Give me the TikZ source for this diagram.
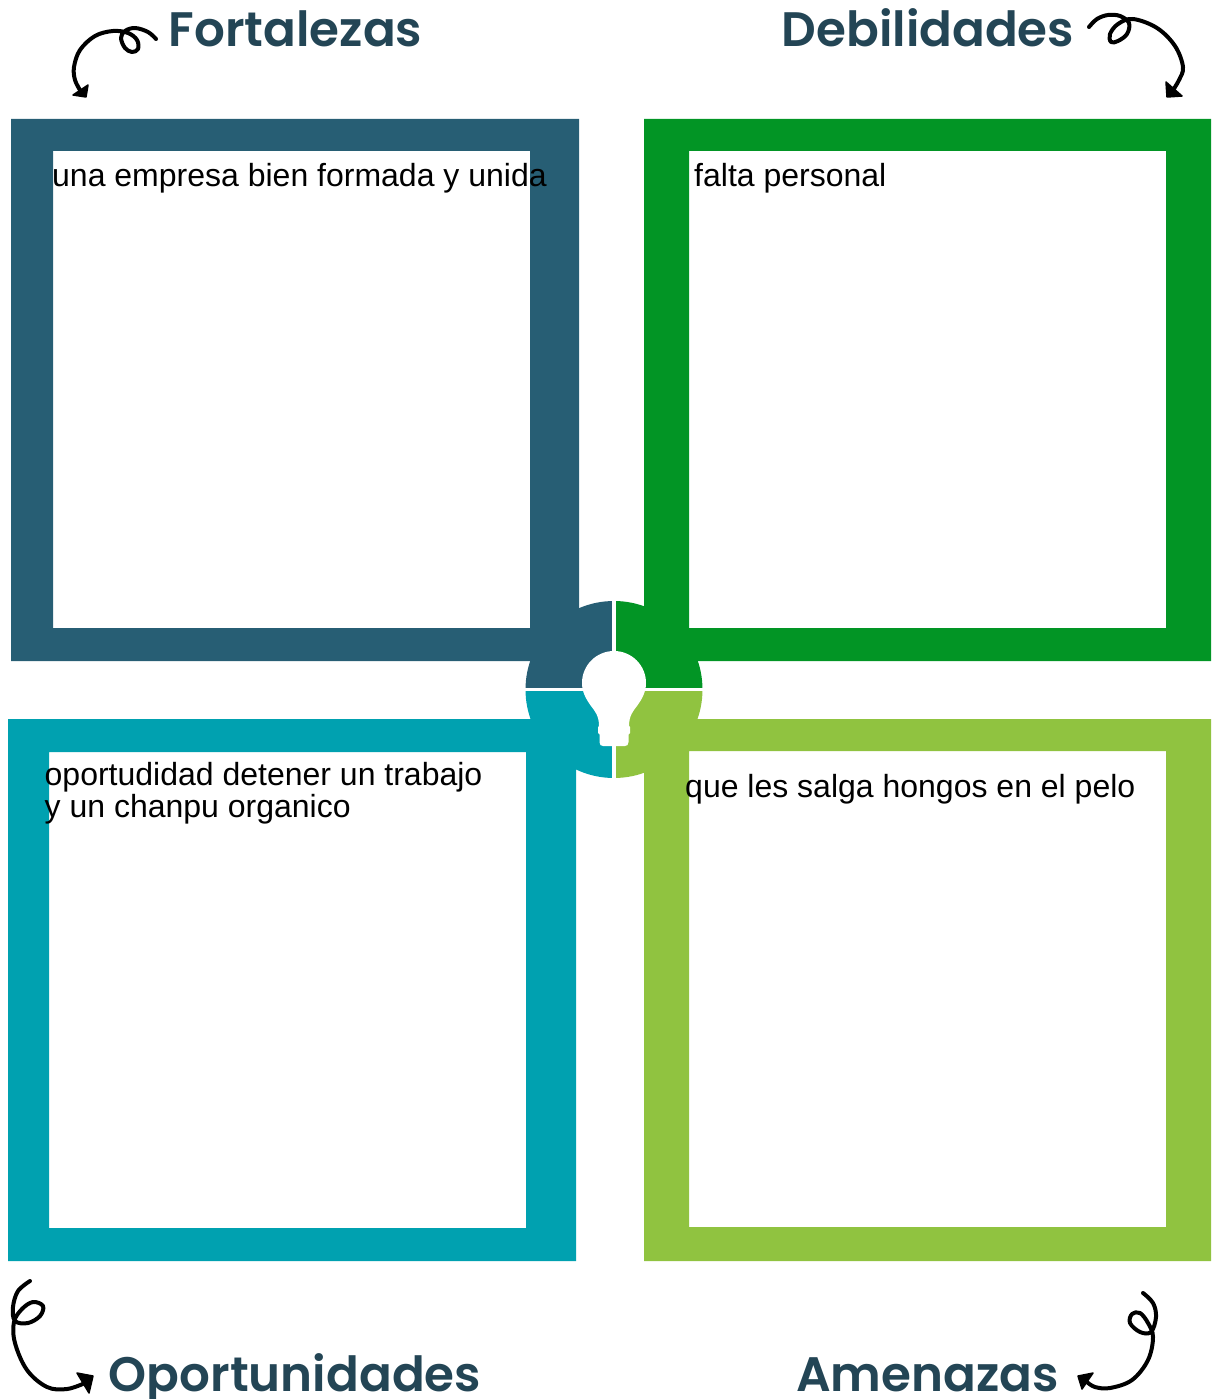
\documentclass[tikz,border=0pt]{standalone}
\usepackage{fontspec}
\setmainfont{Liberation Sans}
\newfontfamily\headfont{Poppins SemiBold}
\definecolor{cblue}{HTML}{275E74}
\definecolor{cgreen}{HTML}{029525}
\definecolor{cteal}{HTML}{00A1B0}
\definecolor{clime}{HTML}{90C340}
\definecolor{chead}{HTML}{234555}
\tikzset{
  framefill/.style={fill=#1,even odd rule},
  bodytext/.style={anchor=base west,inner sep=0pt,text=black,font=\fontsize{32}{32}\selectfont,align=left},
  headtext/.style={anchor=base,inner sep=0pt,text=chead,font=\headfont\fontsize{48.4}{48.4}\selectfont},
  squiggle/.style={draw=black,line width=4pt,line cap=round,line join=round},
  tiphead/.style={fill=black,draw=black,line width=1.5pt,line join=round}
}
\begin{document}
\begin{tikzpicture}[x=1pt,y=-1pt]
\useasboundingbox (0,0) rectangle (1211,1399);
% frames
\fill[framefill=cblue]  (11,119) rectangle (579,661) (53,151) rectangle (530,628);
\fill[framefill=cgreen] (644,119) rectangle (1211,661) (689,151) rectangle (1166,628);
\fill[framefill=cteal]  (8,719) rectangle (576,1261) (49,752) rectangle (526,1228);
\fill[framefill=clime]  (644,719) rectangle (1211,1261) (689,751) rectangle (1166,1227);
% hub quadrants
\coordinate (hub) at (614,689.5);
\fill[cblue]  (hub) -- ++(-88.5,0) arc[start angle=180,end angle=270,radius=88.5] -- cycle;
\fill[cgreen] (hub) -- ++(88.5,0) arc[start angle=0,end angle=-90,radius=88.5] -- cycle;
\fill[cteal]  (hub) -- ++(-88.5,0) arc[start angle=180,end angle=90,radius=88.5] -- cycle;
\fill[clime]  (hub) -- ++(88.5,0) arc[start angle=0,end angle=90,radius=88.5] -- cycle;
\draw[white,line width=3.4pt] (614,598) -- (614,780);
\draw[white,line width=3pt] (524,689.5) -- (704,689.5);
% bulb
\fill[white] (614,651)
  .. controls (631.7,651) and (646,665.3) .. (646,683)
  .. controls (646,692) and (642,699) .. (637,706)
  .. controls (633,711) and (629,716) .. (629,726)
  -- (630,727) -- (630,733) -- (628.5,734.5) -- (628.5,742)
  .. controls (628.5,745) and (627,746) .. (625,746)
  -- (603,746)
  .. controls (601,746) and (599.5,745) .. (599.5,742)
  -- (599.5,734.5) -- (598,733) -- (598,727) -- (599,726)
  .. controls (599,716) and (595,711) .. (591,706)
  .. controls (586,699) and (582,692) .. (582,683)
  .. controls (582,665.3) and (596.3,651) .. (614,651) -- cycle;
\fill[white] (612,745) rectangle (616,750);
% texts
\node[bodytext] (t1) at (52,186) {una empresa bien formada y unida};
\node[bodytext] (t2) at (694,186) {falta personal};
\node[bodytext] (t3) at (44.5,785) {oportudidad detener un trabajo};
\node[bodytext] (t3b) at (44.5,817) {y un chanpu organico};
\node[bodytext] (t4) at (685,797) {que les salga hongos en el pelo};
\node[headtext] (h1) at (295.5,47) {Fortalezas};
\node[headtext] (h2) at (928,47) {Debilidades};
\node[headtext] (h3) at (295,1391) {Oportunidades};
\node[headtext] (h4) at (927.5,1391) {Amenazas};
% squiggles
\draw[squiggle] plot[smooth,tension=0.6] coordinates {(156,39) (148,32) (135,28) (125,31) (121,38) (125,48) (132,52) (138,49) (137,40) (128,33) (113,31) (95,36) (80,50) (74,67) (75,80) (80,90)};
\fill[tiphead] (88,85) -- (73,95) -- (86,97) -- cycle;
\draw[squiggle] plot[smooth,tension=0.6] coordinates {(1089,27) (1097,19) (1108,15) (1120,16) (1129,23) (1127,34) (1118,41) (1111,42) (1110,34) (1118,24) (1133,19) (1157,28) (1175,46) (1183,67) (1179,80) (1173,90)};
\fill[tiphead] (1166,82) -- (1167,97) -- (1182,96) -- cycle;
\draw[squiggle] plot[smooth,tension=0.6] coordinates {(30,1281) (18,1291) (13,1307) (15,1321) (28,1323) (40,1316) (43,1306) (33,1302) (22,1309) (14,1322) (15,1343) (27,1370) (47,1387) (67,1389) (85,1383)};
\fill[tiphead] (77,1373) -- (93,1376) -- (89,1393) -- cycle;
\draw[squiggle] plot[smooth,tension=0.6] coordinates {(1143,1293) (1153,1303) (1156,1317) (1151,1332) (1140,1332) (1130,1323) (1132,1314) (1140,1313) (1148,1323) (1153,1337) (1148,1360) (1132,1380) (1110,1388) (1095,1387) (1087,1382)};
\fill[tiphead] (1093,1373) -- (1078,1376) -- (1082,1389) -- cycle;
\end{tikzpicture}
\end{document}
